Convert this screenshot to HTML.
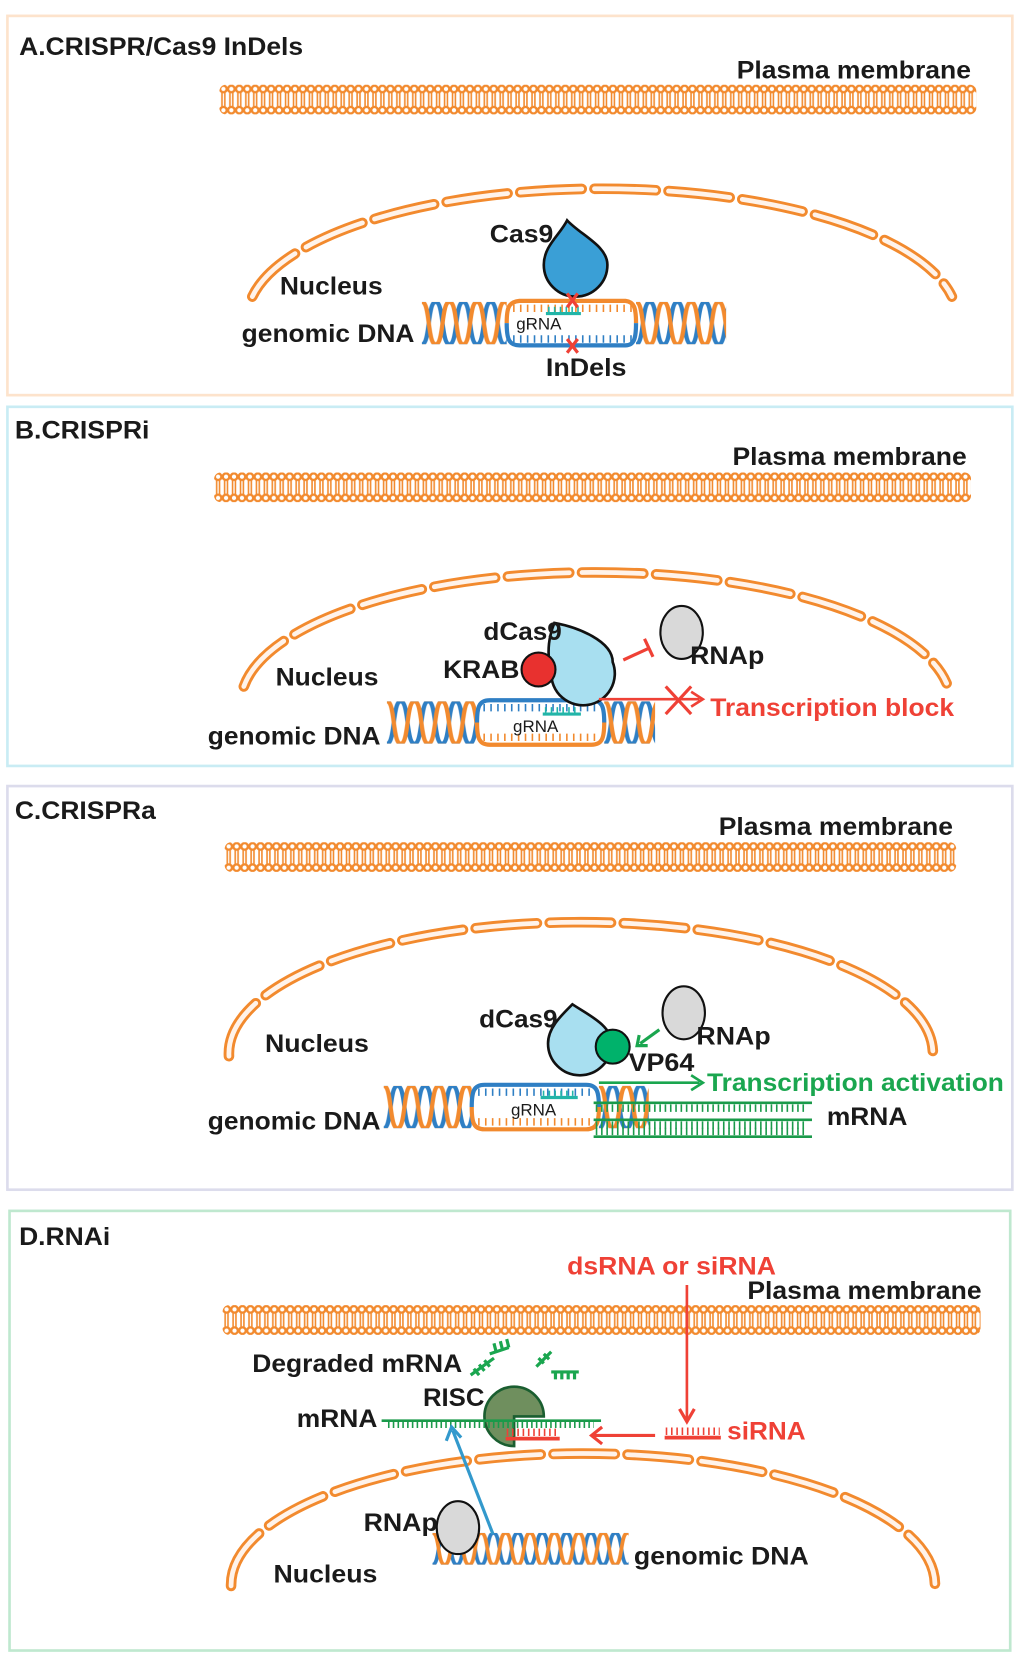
<!DOCTYPE html>
<html><head><meta charset="utf-8"><style>
html,body{margin:0;padding:0;background:#fff;}
svg{display:block;}
text{font-family:"Liberation Sans",Arial,sans-serif;font-weight:bold;fill:#1a1a1a;}
</style></head><body>
<svg width="1024" height="1659" viewBox="0 0 966 1566" preserveAspectRatio="none" xmlns="http://www.w3.org/2000/svg">
<defs>
<pattern id="mem" patternUnits="userSpaceOnUse" width="7.5" height="28" x="0" y="0">
<rect width="7.5" height="28" fill="#fff"/>
<circle cx="3.75" cy="4" r="3.1" fill="#fff" stroke="#f28a2e" stroke-width="2.2"/>
<circle cx="3.75" cy="24" r="3.1" fill="#fff" stroke="#f28a2e" stroke-width="2.2"/>
<line x1="2.4" y1="7" x2="2.4" y2="21" stroke="#f28a2e" stroke-width="1.5"/>
<line x1="5.1" y1="7" x2="5.1" y2="21" stroke="#f28a2e" stroke-width="1.5"/>
</pattern>
<pattern id="hel" patternUnits="userSpaceOnUse" width="26" height="40" x="0" y="0">
<path d="M0,40 C8,40 5,0 13,0 C21,0 18,40 26,40" fill="none" stroke="#2f7fc4" stroke-width="4"/>
<path d="M0,0 C8,0 5,40 13,40 C21,40 18,0 26,0" fill="none" stroke="#f28a2e" stroke-width="4"/>
</pattern>
<pattern id="hel2" patternUnits="userSpaceOnUse" width="23" height="30" x="0" y="0">
<path d="M0,30 C7,30 4.5,0 11.5,0 C18.5,0 16,30 23,30" fill="none" stroke="#2f7fc4" stroke-width="3.5"/>
<path d="M0,0 C7,0 4.5,30 11.5,30 C18.5,30 16,0 23,0" fill="none" stroke="#f28a2e" stroke-width="3.5"/>
</pattern>
</defs>

<rect x="7" y="15" width="948" height="358" fill="none" stroke="#fde3cc" stroke-width="2.5"/>
<rect x="7" y="384" width="948" height="339" fill="none" stroke="#c9ecf4" stroke-width="2.5"/>
<rect x="7" y="742" width="948" height="381" fill="none" stroke="#dcdcec" stroke-width="2.5"/>
<rect x="9" y="1143" width="944" height="415" fill="none" stroke="#bfe8cf" stroke-width="2.5"/>

<!-- ===== A ===== -->
<text x="18" y="52" font-size="24" textLength="268" lengthAdjust="spacingAndGlyphs">A.CRISPR/Cas9 InDels</text>
<text x="695" y="74" font-size="24" textLength="221" lengthAdjust="spacingAndGlyphs">Plasma membrane</text>
<g transform="translate(207,80)"><rect width="714" height="28" rx="6" fill="url(#mem)"/></g>
<path d="M238,280 A335,123 0 0,1 898,280" fill="none" stroke="#f28a2e" stroke-width="10" stroke-dasharray="58 12" stroke-linecap="round"/>
<path d="M238,280 A335,123 0 0,1 898,280" fill="none" stroke="#fff3ea" stroke-width="4.5" stroke-dasharray="58 12" stroke-linecap="round"/>
<text x="264" y="278" font-size="24" textLength="97" lengthAdjust="spacingAndGlyphs">Nucleus</text>
<text x="228" y="323" font-size="24" textLength="163" lengthAdjust="spacingAndGlyphs">genomic DNA</text>
<g transform="translate(398,285)"><rect width="80" height="40" fill="url(#hel)"/></g>
<g transform="translate(600,285)"><rect width="85" height="40" fill="url(#hel)"/></g>
<path d="M478,305 C478,290 480,285 490,284 L590,284 C598,285 600,290 600,305" fill="none" stroke="#f28a2e" stroke-width="4"/>
<line x1="484" y1="291" x2="596" y2="291" stroke="#f28a2e" stroke-width="7" stroke-dasharray="1.5 5"/>
<path d="M478,305 C478,320 480,326 490,326 L590,326 C598,326 600,320 600,305" fill="none" stroke="#2f7fc4" stroke-width="4"/>
<line x1="484" y1="320" x2="596" y2="320" stroke="#2f7fc4" stroke-width="7" stroke-dasharray="1.5 5"/>
<line x1="515" y1="296" x2="548" y2="296" stroke="#22b5a8" stroke-width="3"/>
<line x1="517" y1="292" x2="547" y2="292" stroke="#22b5a8" stroke-width="5" stroke-dasharray="1.5 4"/>
<text x="487" y="311" font-size="16" style="font-weight:normal">gRNA</text>
<path d="M535,208 C548,222 573,232 573,250 A30,30 0 1,1 513,250 C513,232 528,222 535,208 Z" fill="#3a9fd6" stroke="#111" stroke-width="2.5"/>
<text x="462" y="229" font-size="24" textLength="60" lengthAdjust="spacingAndGlyphs">Cas9</text>
<g stroke="#ef4136" stroke-width="3"><line x1="535" y1="277" x2="545" y2="290"/><line x1="545" y1="277" x2="535" y2="290"/><line x1="535" y1="320" x2="545" y2="333"/><line x1="545" y1="320" x2="535" y2="333"/></g>
<text x="515" y="355" font-size="24" textLength="76" lengthAdjust="spacingAndGlyphs">InDels</text>

<!-- ===== B ===== -->
<text x="14" y="414" font-size="24" textLength="127" lengthAdjust="spacingAndGlyphs">B.CRISPRi</text>
<text x="691" y="439" font-size="24" textLength="221" lengthAdjust="spacingAndGlyphs">Plasma membrane</text>
<g transform="translate(202,446)"><rect width="714" height="28" rx="6" fill="url(#mem)"/></g>
<path d="M230,648 A335,124 0 0,1 893,645" fill="none" stroke="#f28a2e" stroke-width="10" stroke-dasharray="58 12" stroke-linecap="round"/>
<path d="M230,648 A335,124 0 0,1 893,645" fill="none" stroke="#fff3ea" stroke-width="4.5" stroke-dasharray="58 12" stroke-linecap="round"/>
<text x="260" y="647" font-size="24" textLength="97" lengthAdjust="spacingAndGlyphs">Nucleus</text>
<text x="196" y="703" font-size="24" textLength="163" lengthAdjust="spacingAndGlyphs">genomic DNA</text>
<g transform="translate(365,662)"><rect width="85" height="40" fill="url(#hel)"/></g>
<g transform="translate(570,662)"><rect width="48" height="40" fill="url(#hel)"/></g>
<path d="M450,682 C450,667 452,661 462,661 L558,661 C568,661 570,667 570,682" fill="none" stroke="#2f7fc4" stroke-width="4"/>
<line x1="456" y1="668" x2="564" y2="668" stroke="#2f7fc4" stroke-width="7" stroke-dasharray="1.5 5"/>
<path d="M450,682 C450,697 452,703 462,703 L558,703 C568,703 570,697 570,682" fill="none" stroke="#f28a2e" stroke-width="4"/>
<line x1="456" y1="696" x2="564" y2="696" stroke="#f28a2e" stroke-width="7" stroke-dasharray="1.5 5"/>
<line x1="512" y1="674" x2="548" y2="674" stroke="#22b5a8" stroke-width="3"/>
<line x1="514" y1="670" x2="546" y2="670" stroke="#22b5a8" stroke-width="5" stroke-dasharray="1.5 4"/>
<text x="484" y="691" font-size="16" style="font-weight:normal">gRNA</text>
<path d="M523,588 C545,592 578,605 578,625 A30,30 0 1,1 520,635 C515,615 518,600 523,588 Z" fill="#a8dff0" stroke="#111" stroke-width="2.5"/>
<circle cx="508" cy="632" r="16" fill="#e8312f" stroke="#111" stroke-width="2"/>
<text x="456" y="604" font-size="24" textLength="74" lengthAdjust="spacingAndGlyphs">dCas9</text>
<text x="418" y="640" font-size="24" textLength="72" lengthAdjust="spacingAndGlyphs">KRAB</text>
<ellipse cx="643" cy="597" rx="20" ry="25" fill="#d9d9d9" stroke="#111" stroke-width="2"/>
<text x="651" y="627" font-size="24" textLength="70" lengthAdjust="spacingAndGlyphs">RNAp</text>
<line x1="588" y1="623" x2="612" y2="612" stroke="#ef4136" stroke-width="3"/>
<line x1="608" y1="603" x2="616" y2="620" stroke="#ef4136" stroke-width="3"/>
<line x1="565" y1="660" x2="660" y2="660" stroke="#ef4136" stroke-width="2.5"/>
<path d="M652,653 L663,660 L652,667" fill="none" stroke="#ef4136" stroke-width="2.5"/>
<g stroke="#ef4136" stroke-width="3"><line x1="628" y1="648" x2="652" y2="674"/><line x1="652" y1="648" x2="628" y2="674"/></g>
<text x="670" y="676" font-size="24" style="fill:#ef4136" textLength="230" lengthAdjust="spacingAndGlyphs">Transcription block</text>

<!-- ===== C ===== -->
<text x="14" y="773" font-size="24" textLength="133" lengthAdjust="spacingAndGlyphs">C.CRISPRa</text>
<text x="678" y="788" font-size="24" textLength="221" lengthAdjust="spacingAndGlyphs">Plasma membrane</text>
<g transform="translate(212,795)"><rect width="690" height="28" rx="6" fill="url(#mem)"/></g>
<path d="M216,997 A332,124 0 0,1 880,992" fill="none" stroke="#f28a2e" stroke-width="10" stroke-dasharray="58 12" stroke-linecap="round"/>
<path d="M216,997 A332,124 0 0,1 880,992" fill="none" stroke="#fff3ea" stroke-width="4.5" stroke-dasharray="58 12" stroke-linecap="round"/>
<text x="250" y="993" font-size="24" textLength="98" lengthAdjust="spacingAndGlyphs">Nucleus</text>
<text x="196" y="1066" font-size="24" textLength="163" lengthAdjust="spacingAndGlyphs">genomic DNA</text>
<g transform="translate(362,1025)"><rect width="83" height="40" fill="url(#hel)"/></g>
<g transform="translate(565,1025)"><rect width="47" height="40" fill="url(#hel)"/></g>
<path d="M445,1045 C445,1030 447,1024 457,1024 L553,1024 C563,1024 565,1030 565,1045" fill="none" stroke="#2f7fc4" stroke-width="4"/>
<line x1="451" y1="1031" x2="559" y2="1031" stroke="#2f7fc4" stroke-width="7" stroke-dasharray="1.5 5"/>
<path d="M445,1045 C445,1060 447,1066 457,1066 L553,1066 C563,1066 565,1060 565,1045" fill="none" stroke="#f28a2e" stroke-width="4"/>
<line x1="451" y1="1059" x2="559" y2="1059" stroke="#f28a2e" stroke-width="7" stroke-dasharray="1.5 5"/>
<line x1="510" y1="1036" x2="545" y2="1036" stroke="#22b5a8" stroke-width="3"/>
<line x1="512" y1="1032" x2="543" y2="1032" stroke="#22b5a8" stroke-width="5" stroke-dasharray="1.5 4"/>
<text x="482" y="1053" font-size="16" style="font-weight:normal">gRNA</text>
<g stroke="#1a9a4a">
<line x1="560" y1="1041" x2="766" y2="1041" stroke-width="2.5"/><line x1="562" y1="1046" x2="760" y2="1046" stroke-width="7" stroke-dasharray="1.5 3.5"/>
<line x1="560" y1="1057" x2="766" y2="1057" stroke-width="2.5"/><line x1="562" y1="1062" x2="760" y2="1062" stroke-width="7" stroke-dasharray="1.5 3.5"/>
<line x1="560" y1="1073" x2="766" y2="1073" stroke-width="2.5"/><line x1="562" y1="1068" x2="760" y2="1068" stroke-width="7" stroke-dasharray="1.5 3.5"/>
</g>
<text x="780" y="1062" font-size="24" textLength="76" lengthAdjust="spacingAndGlyphs">mRNA</text>
<path d="M540,948 C555,958 577,968 577,985 A30,30 0 1,1 517,985 C517,970 530,958 540,948 Z" fill="#a8dff0" stroke="#111" stroke-width="2.5"/>
<circle cx="578" cy="988" r="16" fill="#00b26b" stroke="#111" stroke-width="2"/>
<text x="452" y="970" font-size="24" textLength="74" lengthAdjust="spacingAndGlyphs">dCas9</text>
<text x="593" y="1011" font-size="24" textLength="62" lengthAdjust="spacingAndGlyphs">VP64</text>
<ellipse cx="645" cy="956" rx="20" ry="25" fill="#d9d9d9" stroke="#111" stroke-width="2"/>
<text x="657" y="986" font-size="24" textLength="70" lengthAdjust="spacingAndGlyphs">RNAp</text>
<line x1="622" y1="972" x2="604" y2="985" stroke="#1aa64f" stroke-width="3"/>
<path d="M603,977 L601,987 L611,987" fill="none" stroke="#1aa64f" stroke-width="3"/>
<line x1="565" y1="1022" x2="660" y2="1022" stroke="#1aa64f" stroke-width="2.5"/>
<path d="M652,1015 L663,1022 L652,1029" fill="none" stroke="#1aa64f" stroke-width="2.5"/>
<text x="667" y="1030" font-size="24" style="fill:#1aa64f" textLength="280" lengthAdjust="spacingAndGlyphs">Transcription activation</text>

<!-- ===== D ===== -->
<text x="18" y="1175" font-size="24" textLength="86" lengthAdjust="spacingAndGlyphs">D.RNAi</text>
<text x="535" y="1203" font-size="24" style="fill:#ef4136" textLength="197" lengthAdjust="spacingAndGlyphs">dsRNA or siRNA</text>
<text x="705" y="1226" font-size="24" textLength="221" lengthAdjust="spacingAndGlyphs">Plasma membrane</text>
<g transform="translate(210,1232)"><rect width="715" height="28" rx="6" fill="url(#mem)"/></g>
<path d="M218,1497 A332,124 0 0,1 882,1495" fill="none" stroke="#f28a2e" stroke-width="10" stroke-dasharray="58 12" stroke-linecap="round"/>
<path d="M218,1497 A332,124 0 0,1 882,1495" fill="none" stroke="#fff3ea" stroke-width="4.5" stroke-dasharray="58 12" stroke-linecap="round"/>
<text x="258" y="1494" font-size="24" textLength="98" lengthAdjust="spacingAndGlyphs">Nucleus</text>
<line x1="648" y1="1213" x2="648" y2="1340" stroke="#ef4136" stroke-width="2.5"/>
<path d="M641,1330 L648,1342 L655,1330" fill="none" stroke="#ef4136" stroke-width="3"/>
<line x1="627" y1="1357" x2="680" y2="1357" stroke="#ef4136" stroke-width="3.5"/>
<line x1="628" y1="1351" x2="679" y2="1351" stroke="#ef4136" stroke-width="7" stroke-dasharray="1.5 3.5"/>
<text x="686" y="1359" font-size="24" style="fill:#ef4136" textLength="74" lengthAdjust="spacingAndGlyphs">siRNA</text>
<line x1="558" y1="1355" x2="618" y2="1355" stroke="#ef4136" stroke-width="3"/>
<path d="M568,1347 L558,1355 L568,1363" fill="none" stroke="#ef4136" stroke-width="3"/>
<text x="280" y="1347" font-size="24" textLength="76" lengthAdjust="spacingAndGlyphs">mRNA</text>
<text x="399" y="1327" font-size="24" textLength="58" lengthAdjust="spacingAndGlyphs">RISC</text>
<text x="238" y="1295" font-size="24" textLength="198" lengthAdjust="spacingAndGlyphs">Degraded mRNA</text>
<path d="M485,1337 L485,1365 A28,28 0 1,1 513,1337 Z" fill="#6f8f5e" stroke="#1a5e30" stroke-width="2.5"/>
<line x1="360" y1="1341" x2="567" y2="1341" stroke="#1a9a4a" stroke-width="2.5"/>
<line x1="366" y1="1345" x2="560" y2="1345" stroke="#1a9a4a" stroke-width="6" stroke-dasharray="1.5 3"/>
<line x1="477" y1="1358" x2="528" y2="1358" stroke="#ef4136" stroke-width="3.5"/>
<line x1="478" y1="1352" x2="527" y2="1352" stroke="#ef4136" stroke-width="7" stroke-dasharray="1.5 3.5"/>
<g stroke="#1aa64f" stroke-width="3" fill="none">
<path d="M444,1298 L466,1282"/><path d="M447,1292 L452,1298 M452,1288 L457,1294 M457,1284 L462,1290"/>
<path d="M462,1278 L480,1272"/><path d="M466,1268 L468,1276 M472,1266 L474,1274 M478,1264 L480,1272"/>
<path d="M506,1290 L520,1276"/><path d="M508,1282 L513,1287 M513,1278 L518,1283"/>
<path d="M520,1295 L546,1295"/><path d="M524,1295 L524,1302 M530,1295 L530,1302 M536,1295 L536,1302 M542,1295 L542,1302"/>
</g>
<g transform="translate(408,1447)"><rect width="185" height="30" fill="url(#hel2)"/></g>
<ellipse cx="432" cy="1442" rx="20" ry="25" fill="#d9d9d9" stroke="#111" stroke-width="2"/>
<text x="343" y="1445" font-size="24" textLength="70" lengthAdjust="spacingAndGlyphs">RNAp</text>
<line x1="465" y1="1448" x2="427" y2="1350" stroke="#3399cc" stroke-width="3"/>
<path d="M421,1360 L426,1347 L435,1357" fill="none" stroke="#3399cc" stroke-width="3"/>
<text x="598" y="1477" font-size="24" textLength="165" lengthAdjust="spacingAndGlyphs">genomic DNA</text>
</svg>
</body></html>
